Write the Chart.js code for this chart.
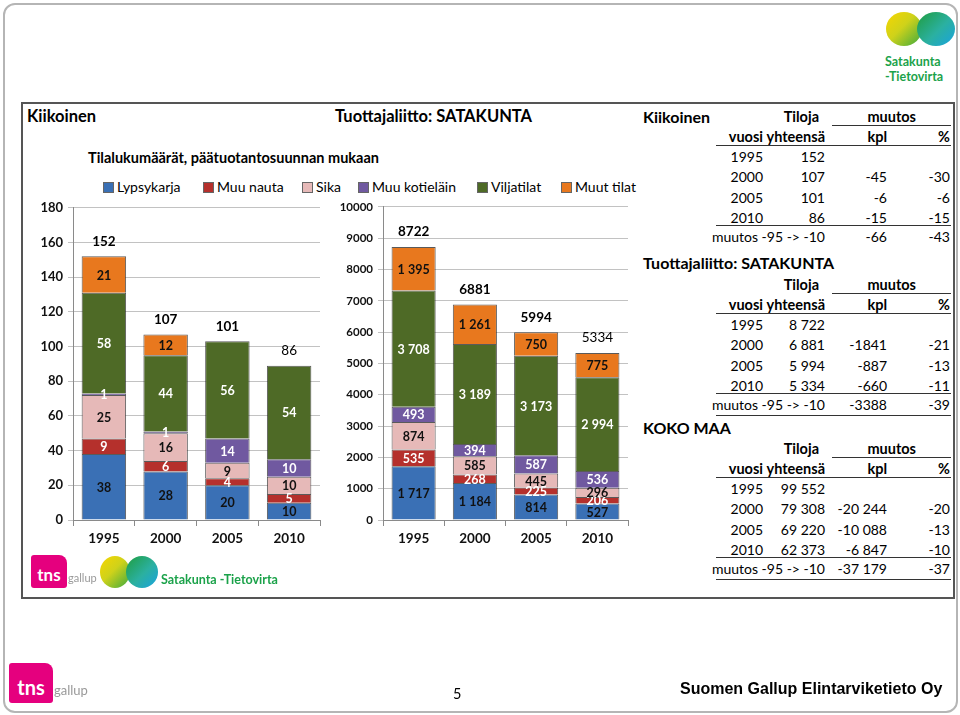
<!DOCTYPE html>
<html><head><meta charset="utf-8">
<script src="https://cdn.jsdelivr.net/npm/chart.js@4.4.1/dist/chart.umd.min.js"></script>
<style>
html,body{margin:0;padding:0;background:#fff;}
body{width:960px;height:715px;position:relative;overflow:hidden;font-family:Lato,"Open Sans",sans-serif;color:#000;}
.abs{position:absolute;white-space:nowrap;line-height:20px;}
.slide{position:absolute;left:3px;top:3px;width:951px;height:706px;border:2px solid #b5b5b5;border-radius:12px;}
.box{position:absolute;left:21px;top:102px;width:930px;height:493px;border:2px solid #555;}
.b{font-weight:bold;}
.r{text-align:right;}
.line{position:absolute;height:0;border-top:1.5px solid #333;}
canvas{position:absolute;}
.lg{position:absolute;font-size:14px;line-height:18px;white-space:nowrap;}
.lg i{display:inline-block;width:9px;height:9px;border:1px solid #666;margin-right:3px;vertical-align:-1px;}
.green{color:#1ba24a;font-weight:bold;}
.pink{position:absolute;background:#e5007e;border-radius:3px 8px 3px 3px;color:#fff;font-weight:bold;}
.lobeL{position:absolute;border-radius:50%;background:linear-gradient(135deg,#f7d600 0%,#cfd21a 45%,#3aa940 100%);}
.lobeR{position:absolute;border-radius:50%;background:linear-gradient(135deg,#1f9d3e 0%,#2bb0a0 55%,#19a3e0 100%);}
</style></head><body>
<div class="slide"></div>
<div class="box"></div>

<!-- top-right logo -->
<div class="lobeL" style="left:886px;top:12px;width:36px;height:34px;"></div>
<div class="lobeR" style="left:917px;top:12px;width:38px;height:34px;"></div>
<div class="abs green" style="left:885px;top:52px;font-size:12.5px;">Satakunta</div>
<div class="abs green" style="left:885px;top:67px;font-size:12.5px;">-Tietovirta</div>

<!-- titles -->
<div class="abs b" style="left:27px;top:106px;font-size:16.5px;">Kiikoinen</div>
<div class="abs b" style="left:335px;top:106px;font-size:16.5px;">Tuottajaliitto: SATAKUNTA</div>
<div class="abs b" style="left:88px;top:148px;font-size:14.5px;">Tilalukumäärät, päätuotantosuunnan mukaan</div>
<div id="legend"></div>

<canvas id="c1" width="330" height="370" style="left:0px;top:195px;"></canvas>
<canvas id="c2" width="308" height="370" style="left:330px;top:195px;"></canvas>

<div id="tables"></div>

<!-- bottom logos in box -->
<div class="pink" style="left:31px;top:555px;width:36px;height:33px;font-size:17px;line-height:40px;text-align:center;">tns</div>
<div class="abs" style="left:68px;top:568px;font-size:11px;color:#999;">gallup</div>
<div class="lobeL" style="left:100px;top:556px;width:30px;height:32px;"></div>
<div class="lobeR" style="left:126px;top:556px;width:32px;height:32px;"></div>
<div class="abs green" style="left:161px;top:570px;font-size:12.5px;">Satakunta -Tietovirta</div>

<!-- footer -->
<div class="pink" style="left:9px;top:663px;width:44px;height:40px;font-size:20px;line-height:48px;text-align:center;">tns</div>
<div class="abs" style="left:54px;top:680px;font-size:13px;color:#999;">gallup</div>
<div class="abs" style="left:453px;top:684px;font-size:14.5px;">5</div>
<div class="abs" style="left:680px;top:679px;font-size:16px;font-family:'Liberation Sans',Arial,sans-serif;font-weight:bold;">Suomen Gallup Elintarviketieto Oy</div>

<script>
// ---------- data ----------
const years = ['1995', '2000', '2005', '2010'];
const seriesNames = ['Lypsykarja', 'Muu nauta', 'Sika', 'Muu kotieläin', 'Viljatilat', 'Muut tilat'];

const kiikLypsykarja   = [38, 28, 20, 10];
const kiikMuuNauta     = [9, 6, 4, 5];
const kiikSika         = [25, 16, 9, 10];
const kiikMuuKotielain = [1, 1, 14, 10];
const kiikViljatilat   = [58, 44, 56, 54];
const kiikMuutTilat    = [21, 12, null, null];
const kiikTotals       = [152, 107, 101, 86];
const kiikYTicks       = [0, 20, 40, 60, 80, 100, 120, 140, 160, 180];

const satLypsykarja    = [1717, 1184, 814, 527];
const satMuuNauta      = [535, 268, 225, 206];
const satSika          = [874, 585, 445, 296];
const satMuuKotielain  = [493, 394, 587, 536];
const satViljatilat    = [3708, 3189, 3173, 2994];
const satMuutTilat     = [1395, 1261, 750, 775];
const satTotals        = [8722, 6881, 5994, 5334];
const satYTicks        = [0, 1000, 2000, 3000, 4000, 5000, 6000, 7000, 8000, 9000, 10000];

// tables
const tableYears = ['1995', '2000', '2005', '2010'];
const kiikTabTotal = ['152', '107', '101', '86'];
const kiikTabKpl   = ['', '-45', '-6', '-15'];
const kiikTabPct   = ['', '-30', '-6', '-15'];
const kiikTabSum   = ['-66', '-43'];
const satTabTotal  = ['8 722', '6 881', '5 994', '5 334'];
const satTabKpl    = ['', '-1841', '-887', '-660'];
const satTabPct    = ['', '-21', '-13', '-11'];
const satTabSum    = ['-3388', '-39'];
const kokoTabTotal = ['99 552', '79 308', '69 220', '62 373'];
const kokoTabKpl   = ['', '-20 244', '-10 088', '-6 847'];
const kokoTabPct   = ['', '-20', '-13', '-10'];
const kokoTabSum   = ['-37 179', '-37'];

// ---------- styles ----------
const colors = ['#3a70b5', '#b5302c', '#e6b9b8', '#7059a0', '#4e6a26', '#e8781e'];
const labelColors = ['#111', '#fff', '#111', '#fff', '#fff', '#111'];

// legend
(function(){
  const xs = [103, 203, 302, 358, 477, 561];
  const lg = document.getElementById('legend');
  seriesNames.forEach((n, i) => {
    const d = document.createElement('div');
    d.className = 'lg';
    d.style.left = xs[i] + 'px';
    d.style.top = '178px';
    d.innerHTML = '<i style="background:' + colors[i] + '"></i>' + n;
    lg.appendChild(d);
  });
})();

function spaced(v){ return String(v).replace(/\B(?=(\d{3})+(?!\d))/g, ' '); }

const segLabels = {
  id: 'segLabels',
  afterDatasetsDraw(chart, args, o){
    const ctx = chart.ctx;
    ctx.save();
    ctx.textAlign = 'center';
    ctx.textBaseline = 'middle';
    chart.data.datasets.forEach((ds, di) => {
      const meta = chart.getDatasetMeta(di);
      meta.data.forEach((bar, i) => {
        const v = ds.data[i];
        if (v == null) return;
        const p = bar.getProps(['x', 'y', 'base'], true);
        ctx.font = o.font;
        ctx.fillStyle = labelColors[di];
        ctx.fillText(o.fmt(v), p.x, (p.y + p.base) / 2 + 1);
      });
    });
    const ys = chart.scales.y;
    o.totals.forEach((t, i) => {
      let top = 0;
      chart.data.datasets.forEach(ds => { top += ds.data[i] || 0; });
      const x = chart.getDatasetMeta(0).data[i].x;
      ctx.font = o.totalFonts[i];
      ctx.fillStyle = '#000';
      ctx.fillText(String(t), x, ys.getPixelForValue(top) - 15);
    });
    ctx.restore();
  }
};

function makeDatasets(arrs){
  return arrs.map((a, i) => ({
    label: seriesNames[i], data: a, backgroundColor: colors[i],
    borderColor: 'rgba(35,35,35,0.75)', borderWidth: 1,
    barPercentage: 0.72, categoryPercentage: 1
  }));
}

function makeChart(id, arrs, ticks, yWidth, tickSize, o){
  return new Chart(document.getElementById(id), {
    type: 'bar',
    data: { labels: years, datasets: makeDatasets(arrs) },
    options: {
      responsive: false, animation: false, devicePixelRatio: 1,
      layout: { padding: { top: 10, right: 10, left: 0, bottom: 0 } },
      plugins: { legend: { display: false }, tooltip: { enabled: false }, segLabels: o },
      scales: {
        x: {
          stacked: true,
          grid: { display: true, drawOnChartArea: false, drawTicks: true, tickLength: 6, color: '#8a8a8a', offset: true },
          border: { display: true, color: '#8a8a8a' },
          ticks: { font: { family: 'Lato', size: 13.5, weight: 'bold' }, color: '#111', padding: 5 },
          afterFit(s){ s.height = 45; }
        },
        y: {
          stacked: true, min: ticks[0], max: ticks[ticks.length - 1],
          afterBuildTicks(s){ s.ticks = ticks.map(v => ({ value: v })); },
          ticks: { font: { family: 'Lato', size: tickSize, weight: 'bold' }, color: '#111', padding: 5,
                   callback: v => String(v) },
          grid: { color: '#c2c2c2', tickLength: 5, drawTicks: true },
          border: { display: true, color: '#8a8a8a' },
          afterFit(s){ s.width = yWidth; }
        }
      }
    },
    plugins: [segLabels]
  });
}

makeChart('c1',
  [kiikLypsykarja, kiikMuuNauta, kiikSika, kiikMuuKotielain, kiikViljatilat, kiikMuutTilat],
  kiikYTicks, 73, 13,
  { font: 'bold 12.5px Lato', fmt: v => String(v), totals: kiikTotals,
    totalFonts: ['bold 13.5px Lato', 'bold 13.5px Lato', 'bold 13.5px Lato', '13.5px Lato'] });

makeChart('c2',
  [satLypsykarja, satMuuNauta, satSika, satMuuKotielain, satViljatilat, satMuutTilat],
  satYTicks, 53, 11.5,
  { font: 'bold 12.5px Lato', fmt: spaced, totals: satTotals,
    totalFonts: ['bold 13.5px Lato', 'bold 13.5px Lato', 'bold 13.5px Lato', '13.5px Lato'] });

// ---------- tables ----------
(function(){
  const host = document.getElementById('tables');
  function txt(s, x, y, cls, right, size){
    const d = document.createElement('div');
    d.className = 'abs ' + (cls || '');
    d.textContent = s;
    d.style.top = (y - 10) + 'px';
    d.style.fontSize = (size || 14) + 'px';
    if (right) { d.style.right = (960 - x) + 'px'; } else { d.style.left = x + 'px'; }
    host.appendChild(d);
  }
  function ln(x1, x2, y){
    const d = document.createElement('div');
    d.className = 'line';
    d.style.left = x1 + 'px'; d.style.width = (x2 - x1) + 'px'; d.style.top = y + 'px';
    host.appendChild(d);
  }
  const C1 = 763, C2 = 825, C3 = 887, C4 = 950;
  function table(title, ty, H, tot, kpl, pct, sum, last){
    txt(title, 643, ty, 'b', false, 16);
    txt('Tiloja', 819, H, 'b', true, 14.5);
    txt('muutos', 916, H, 'b', true, 14.5);
    ln(832, 951, H + 8);
    txt('vuosi', C1, H + 20, 'b', true, 14.5);
    txt('yhteensä', C2, H + 20, 'b', true, 14.5);
    txt('kpl', C3, H + 20, 'b', true, 14.5);
    txt('%', C4, H + 20, 'b', true, 14.5);
    ln(716, 951, H + 28);
    tableYears.forEach((yv, i) => {
      const y = H + 40 + i * 20.3;
      txt(yv, C1, y, '', true);
      txt(tot[i], C2, y, '', true);
      txt(kpl[i], C3, y, '', true);
      txt(pct[i], C4, y, '', true);
    });
    ln(716, 951, H + 108);
    txt('muutos -95 -> -10', C2, H + 120, '', true);
    txt(sum[0], C3, H + 120, '', true);
    txt(sum[1], C4, H + 120, '', true);
    if (last) ln(716, 951, H + 130);
  }
  table('Kiikoinen', 117, 117, kiikTabTotal, kiikTabKpl, kiikTabPct, kiikTabSum, false);
  table('Tuottajaliitto: SATAKUNTA', 263, 285, satTabTotal, satTabKpl, satTabPct, satTabSum, true);
  table('KOKO MAA', 428, 449, kokoTabTotal, kokoTabKpl, kokoTabPct, kokoTabSum, true);
})();
</script>
</body></html>
